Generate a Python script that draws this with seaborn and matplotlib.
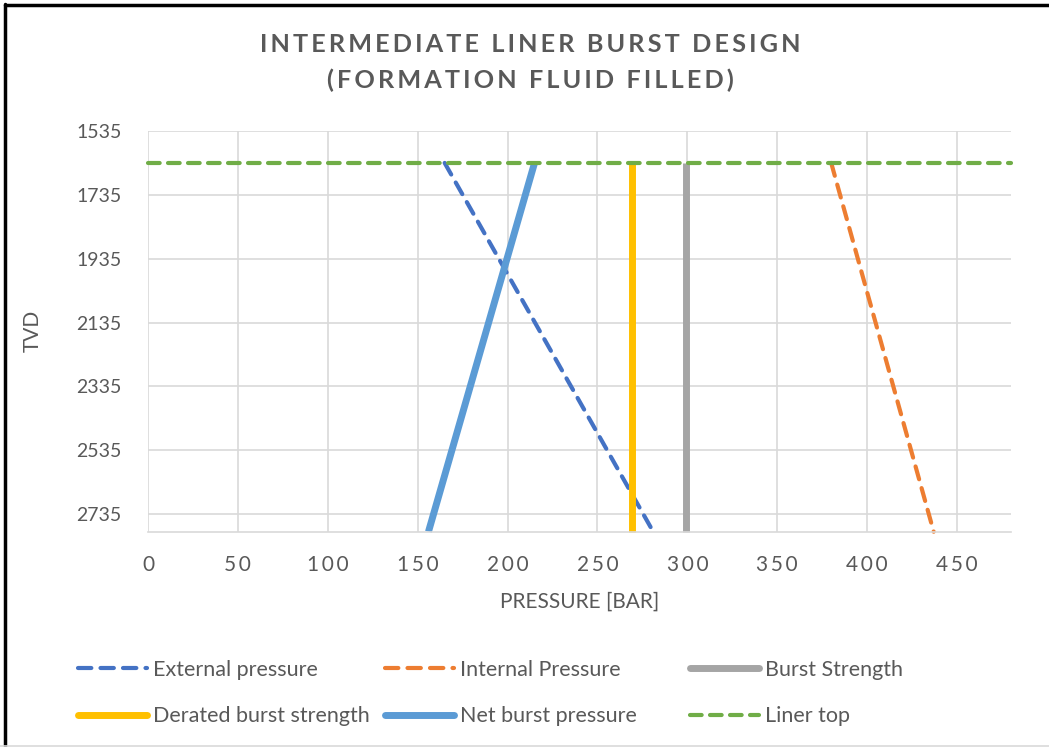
"""
Intermediate liner burst design chart (formation fluid filled).
"""

import pandas as pd
import matplotlib.pyplot as plt
import seaborn as sns
from matplotlib.lines import Line2D

# Data
depth = [1635, 2790]
external_pressure = [165, 281]
internal_pressure = [380, 437]
net_burst_pressure = [215, 156]
burst_strength = [299, 299]
derated_burst_strength = [269, 269]
liner_top_pressure = [0, 480]
liner_top_depth = [1635, 1635]

x_ticks = [0, 50, 100, 150, 200, 250, 300, 350, 400, 450]
y_ticks = [1535, 1735, 1935, 2135, 2335, 2535, 2735]

TEXT = '#595959'
GRID = '#d9d9d9'

sns.set_style("white")
plt.rcParams['font.family'] = ['Lato', 'DejaVu Sans']


def spaced(s, sep='\u2009'):
    """Fake Excel's letter spacing with thin spaces"""
    return sep.join(s)


def main():
    fig = plt.figure(figsize=(10.49, 7.47), dpi=100)
    ax = fig.add_axes([148 / 1049, 1 - 531.7 / 747, (1011 - 148) / 1049, (531.7 - 131) / 747])

    series = [
        ('External pressure', external_pressure, depth, '#4472C4', 3.0, (0, (3.2, 2.2))),
        ('Internal Pressure', internal_pressure, depth, '#ED7D31', 3.0, (0, (3.2, 2.2))),
        ('Burst Strength', burst_strength, depth, '#A5A5A5', 5.0, '-'),
        ('Derated burst strength', derated_burst_strength, depth, '#FFC000', 5.0, '-'),
        ('Net burst pressure', net_burst_pressure, depth, '#5B9BD5', 5.0, '-'),
        ('Liner top', liner_top_pressure, liner_top_depth, '#70AD47', 3.0, (0, (2.8, 2.0))),
    ]

    handles = {}
    for name, xs, ys, color, lw, ls in series:
        df = pd.DataFrame({'pressure': xs, 'tvd': ys})
        sns.lineplot(data=df, x='pressure', y='tvd', ax=ax, color=color, linewidth=lw,
                     linestyle=ls, sort=False, estimator=None, clip_on=False)
        line = ax.lines[-1]
        line.set_dash_capstyle('round')
        line.set_solid_capstyle('round' if lw < 4 else 'butt')
        handles[name] = Line2D([], [], color=color, linewidth=lw, linestyle=ls,
                               dash_capstyle='round', solid_capstyle='round')

    ax.set_xlim(0, 480)
    ax.set_ylim(2790, 1535)
    ax.set_xticks(x_ticks)
    ax.set_yticks(y_ticks)
    ax.set_xticklabels([spaced(str(t)) for t in x_ticks], fontsize=15, color=TEXT)
    ax.set_yticklabels([str(t) for t in y_ticks], fontsize=14, color=TEXT)
    ax.tick_params(axis='x', length=0, pad=17)
    ax.tick_params(axis='y', length=0, pad=19)
    ax.grid(True, color=GRID, linewidth=1.2)
    for side in ['top', 'right', 'left']:
        ax.spines[side].set_visible(False)
    ax.spines['bottom'].set_color(GRID)
    ax.spines['bottom'].set_linewidth(1.2)

    ax.set_xlabel('PRESSURE [BAR]', fontsize=15, color=TEXT, labelpad=12)
    ax.set_ylabel('TVD', fontsize=15, color=TEXT, labelpad=24)

    fig.text(530 / 1049, 1 - 45 / 747, spaced('INTERMEDIATE LINER BURST DESIGN'),
             ha='center', va='center', fontsize=18.2, fontweight='bold', color=TEXT)
    fig.text(530 / 1049, 1 - 80 / 747, spaced('(FORMATION FLUID FILLED)'),
             ha='center', va='center', fontsize=18.2, fontweight='bold', color=TEXT)

    # Legend: three columns placed like the Excel one
    columns = [
        (78, ['External pressure', 'Derated burst strength']),
        (385, ['Internal Pressure', 'Net burst pressure']),
        (690, ['Burst Strength', 'Liner top']),
    ]
    for x0, names in columns:
        leg = fig.legend([handles[n] for n in names], names, loc='upper left',
                         bbox_to_anchor=(x0 / 1049, 1 - 660 / 747), frameon=False,
                         fontsize=15.5, handlelength=3.2, handletextpad=0.3,
                         labelspacing=1.22, borderaxespad=0, borderpad=0)
        for t in leg.get_texts():
            t.set_color(TEXT)

    # Chart border
    fig.add_artist(Line2D([5 / 1049, 5 / 1049], [0, 1 - 4 / 747], color='black', linewidth=2.5))
    fig.add_artist(Line2D([5 / 1049, 1], [1 - 5 / 747, 1 - 5 / 747], color='black', linewidth=2.5))
    fig.add_artist(Line2D([0, 1], [1.5 / 747, 1.5 / 747], color=GRID, linewidth=1.2))

    fig.savefig('out.png', dpi=100)
    plt.close(fig)


if __name__ == "__main__":
    main()
